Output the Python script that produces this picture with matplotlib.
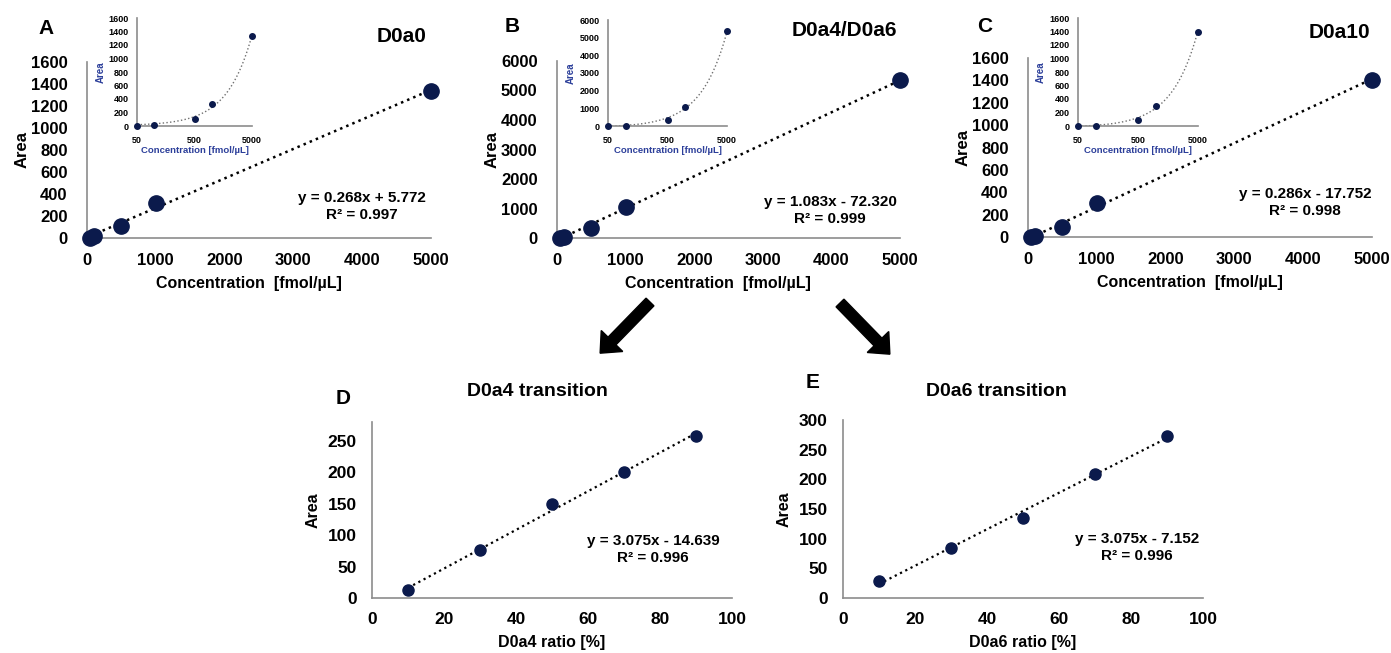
import numpy as np
import matplotlib
matplotlib.use("Agg")
import matplotlib.pyplot as plt
from matplotlib.patches import FancyArrow

plt.rcParams['font.family'] = ['Liberation Sans', 'DejaVu Sans']
plt.rcParams['font.weight'] = 'bold'

W, H = 1391, 653
NAVY = '#0b1a4c'
SPINE = '#8c8c8c'
BLUE = '#2c3f9a'

# calibration data
conc = [50, 100, 500, 1000, 5000]
area_a = [3, 18, 108, 320, 1340]
area_b = [5, 20, 330, 1060, 5350]
area_c = [2, 5, 85, 300, 1400]
fit_a = (0.268, 5.772)
fit_b = (1.083, -72.320)
fit_c = (0.286, -17.752)

# transition data
ratio = [10, 30, 50, 70, 90]
area_d = [12, 76, 150, 200, 258]
area_e = [28, 85, 135, 209, 273]
fit_d = (3.075, -14.639)
fit_e = (3.075, -7.152)

fig = plt.figure(figsize=(W / 100, H / 100), dpi=100)


def box(l, r, top, bottom):
    return [l / W, 1 - bottom / H, (r - l) / W, (bottom - top) / H]


def ftext(x, y, s, **kw):
    fig.text(x / W, 1 - y / H, s, **kw)


def style(ax, fs):
    for s in ['top', 'right']:
        ax.spines[s].set_visible(False)
    for s in ['left', 'bottom']:
        ax.spines[s].set_color(SPINE)
        ax.spines[s].set_linewidth(1.2)
    ax.tick_params(length=0, labelsize=fs)
    for t in ax.get_xticklabels() + ax.get_yticklabels():
        t.set_fontweight('bold')


def main_panel(pos, x, y, fit, ymax, ystep):
    ax = fig.add_axes(box(*pos))
    xs = np.array([x[0], x[-1]])
    ax.plot(xs, fit[0] * xs + fit[1], ':', color='black', lw=1.8)
    ax.plot(x, y, 'o', color=NAVY, ms=11, clip_on=False, zorder=3)
    ax.set_xlim(0, 5000)
    ax.set_ylim(0, ymax)
    ax.set_xticks(range(0, 5001, 1000))
    ax.set_yticks(range(0, ymax + 1, ystep))
    style(ax, 12)
    ax.tick_params(axis='y', pad=14)
    ax.tick_params(axis='x', pad=11)
    ax.set_ylabel('Area', fontsize=12, fontweight='bold', labelpad=1)
    ax.set_xlabel('Concentration  [fmol/µL]', fontsize=11.5, fontweight='bold')
    ax.xaxis.set_label_coords(0.47, -0.215)
    return ax


def inset(pos, x, y, fit, ymax, ystep):
    ax = fig.add_axes(box(*pos))
    xs = np.logspace(np.log10(x[0]), np.log10(x[-1]), 100)
    ax.plot(xs, fit[0] * xs + fit[1], ':', color='#707070', lw=1.0)
    ax.plot(x, y, 'o', color=NAVY, ms=4, clip_on=False, zorder=3)
    ax.set_xscale('log')
    ax.set_xlim(50, 5000)
    ax.set_ylim(0, ymax)
    ax.set_xticks([50, 500, 5000])
    ax.set_xticklabels(['50', '500', '5000'])
    ax.xaxis.set_minor_locator(matplotlib.ticker.NullLocator())
    ax.set_yticks(range(0, ymax + 1, ystep))
    style(ax, 6.5)
    ax.tick_params(axis='y', pad=6)
    ax.tick_params(axis='x', pad=7)
    ax.set_xlabel('Concentration [fmol/µL]', fontsize=6.8, fontweight='bold', color=BLUE, labelpad=1)
    ax.set_ylabel('Area', fontsize=7, fontweight='bold', color=BLUE)
    ax.yaxis.set_label_coords(-0.27, 0.5)
    return ax


def ratio_panel(pos, y, fit, ymax, yticks, xlabel):
    ax = fig.add_axes(box(*pos))
    xs = np.array([ratio[0], ratio[-1]])
    ax.plot(xs, fit[0] * xs + fit[1], ':', color='black', lw=1.6)
    ax.plot(ratio, y, 'o', color=NAVY, ms=8, zorder=3)
    ax.set_xlim(0, 100)
    ax.set_ylim(0, ymax)
    ax.set_xticks(range(0, 101, 20))
    ax.set_yticks(yticks)
    style(ax, 12.5)
    ax.tick_params(axis='x', pad=10)
    ax.tick_params(axis='y', pad=11)
    ax.set_xlabel(xlabel, fontsize=11.5, fontweight='bold', labelpad=6)
    ax.set_ylabel('Area', fontsize=11.5, fontweight='bold', labelpad=5)
    return ax


main_panel((87, 431, 62, 238), conc, area_a, fit_a, 1600, 200)
inset((137, 252, 18, 126), conc, area_a, fit_a, 1600, 200)
main_panel((557, 900, 61, 238), conc, area_b, fit_b, 6000, 1000)
inset((608, 727, 20, 126), conc, area_b, fit_b, 6000, 1000)
main_panel((1028, 1372, 58, 237), conc, area_c, fit_c, 1600, 200)
inset((1078, 1198, 18, 126), conc, area_c, fit_c, 1600, 200)

ratio_panel((372, 732, 422, 598), area_d, fit_d, 280, range(0, 251, 50), 'D0a4 ratio [%]')
ratio_panel((843, 1203, 420, 598), area_e, fit_e, 300, range(0, 301, 50), 'D0a6 ratio [%]')

# panel letters and titles
ftext(46, 28, 'A', fontsize=15, fontweight='bold', ha='center', va='center')
ftext(512, 27, 'B', fontsize=15, fontweight='bold', ha='center', va='center')
ftext(985, 27, 'C', fontsize=15, fontweight='bold', ha='center', va='center')
ftext(343, 399, 'D', fontsize=15, fontweight='bold', ha='center', va='center')
ftext(813, 382, 'E', fontsize=15, fontweight='bold', ha='center', va='center')
ftext(426, 37, 'D0a0', fontsize=15, fontweight='bold', ha='right', va='center')
ftext(897, 31, 'D0a4/D0a6', fontsize=15, fontweight='bold', ha='right', va='center')
ftext(1370, 32, 'D0a10', fontsize=15, fontweight='bold', ha='right', va='center')
ftext(537, 392, 'D0a4 transition', fontsize=14, fontweight='bold', ha='center', va='center')
ftext(996, 392, 'D0a6 transition', fontsize=14, fontweight='bold', ha='center', va='center')

# regression equations
eqs = [(362, 198, fit_a, 0.997), (830, 202, fit_b, 0.999), (1305, 194, fit_c, 0.998),
       (653, 541, fit_d, 0.996), (1137, 539, fit_e, 0.996)]
for x, y, (m, b), r2 in eqs:
    sign = '+' if b >= 0 else '-'
    ftext(x, y, f'y = {m:.3f}x {sign} {abs(b):.3f}', fontsize=11, fontweight='bold', ha='center', va='center')
    ftext(x, y + 17, f'R² = {r2:.3f}', fontsize=11, fontweight='bold', ha='center', va='center')

# arrows
ov = fig.add_axes([0, 0, 1, 1])
ov.set_xlim(0, W)
ov.set_ylim(H, 0)
ov.axis('off')
ov.add_patch(FancyArrow(650, 302, -38, 39, width=11, head_width=30, head_length=17,
                        length_includes_head=False, color='black'))
ov.add_patch(FancyArrow(840, 303, 38, 39, width=11, head_width=30, head_length=17,
                        length_includes_head=False, color='black'))

fig.savefig('out.png', dpi=100)
